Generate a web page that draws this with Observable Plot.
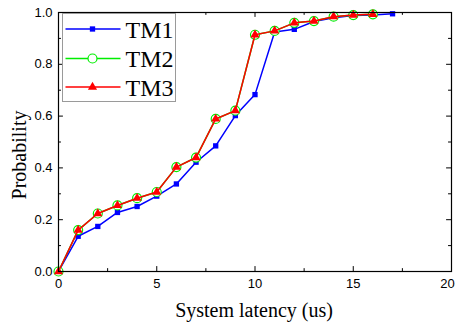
<!DOCTYPE html>
<html>
<head>
<meta charset="utf-8">
<script src="https://cdn.jsdelivr.net/npm/d3@7"></script>
<script src="https://cdn.jsdelivr.net/npm/@observablehq/plot@0.6"></script>
<style>
  html, body { margin: 0; padding: 0; background: white; }
  #wrap { position: relative; width: 456px; height: 324px; }
</style>
</head>
<body>
<div id="wrap"></div>
<script>
// ---- data ----
const latencyTM1 = [0,1,2,3,4,5,6,7,8,9,10,11,12,13,14,15,16,17];
const probTM1 = [0, 0.136, 0.174, 0.228, 0.251, 0.291, 0.338, 0.422, 0.485, 0.602, 0.683, 0.925, 0.935, 0.965, 0.98, 0.988, 0.99, 0.995];
const latencyTM2 = [0,1,2,3,4,5,6,7,8,9,10,11,12,13,14,15,16];
const probTM2 = [0, 0.16, 0.224, 0.255, 0.283, 0.307, 0.403, 0.44, 0.589, 0.621, 0.914, 0.929, 0.96, 0.967, 0.984, 0.99, 0.993];
const latencyTM3 = [0,1,2,3,4,5,6,7,8,9,10,11,12,13,14,15,16];
const probTM3 = [0, 0.16, 0.224, 0.255, 0.283, 0.307, 0.403, 0.44, 0.589, 0.621, 0.914, 0.929, 0.96, 0.967, 0.984, 0.99, 0.993];
const seriesNames = ["TM1", "TM2", "TM3"];
const xMajorTicks = [0, 5, 10, 15, 20];
const xMinorTicks = [2.5, 7.5, 12.5, 17.5];
const yMajorTicks = [0, 0.2, 0.4, 0.6, 0.8, 1.0];
const yMinorTicks = [0.1, 0.3, 0.5, 0.7, 0.9];
const xLabel = "System latency (us)";
const yLabel = "Probability";

const toRows = (xs, ys) => xs.map((x, i) => ({x, y: ys[i]}));
const tm1 = toRows(latencyTM1, probTM1);
const tm2 = toRows(latencyTM2, probTM2);
const tm3 = toRows(latencyTM3, probTM3);

const colors = {TM1: "#0000ff", TM2: "#00ee00", TM3: "#ff0000"};

const chart = Plot.plot({
  width: 456,
  height: 324,
  marginLeft: 58,
  marginRight: 5,
  marginTop: 12,
  marginBottom: 53,
  style: {fontFamily: "'Liberation Sans', Arial, sans-serif", fontSize: "13px", background: "white", overflow: "visible", color: "black"},
  x: {domain: [0, 20]},
  y: {domain: [0, 1]},
  marks: [
    // inward ticks
    Plot.ruleX(xMajorTicks, {x: d => d, y1: 0, y2: 0.019, stroke: "black", strokeWidth: 1}),
    Plot.ruleX(xMinorTicks, {x: d => d, y1: 0, y2: 0.011, stroke: "black", strokeWidth: 1}),
    Plot.ruleX(xMajorTicks, {x: d => d, y1: 1, y2: 0.981, stroke: "black", strokeWidth: 1}),
    Plot.ruleX(xMinorTicks, {x: d => d, y1: 1, y2: 0.989, stroke: "black", strokeWidth: 1}),
    Plot.ruleY(yMajorTicks, {y: d => d, x1: 0, x2: 0.25, stroke: "black", strokeWidth: 1}),
    Plot.ruleY(yMinorTicks, {y: d => d, x1: 0, x2: 0.15, stroke: "black", strokeWidth: 1}),
    Plot.ruleY(yMajorTicks, {y: d => d, x1: 20, x2: 19.75, stroke: "black", strokeWidth: 1}),
    Plot.ruleY(yMinorTicks, {y: d => d, x1: 20, x2: 19.85, stroke: "black", strokeWidth: 1}),
    Plot.axisX(xMajorTicks.slice(0, -1), {tickSize: 0, tickPadding: 7, tickFormat: d => String(d), label: null}),
    Plot.axisX(xMajorTicks.slice(-1), {tickSize: 0, tickPadding: 7, tickFormat: d => String(d), label: null, dx: -4}),
    Plot.axisY({ticks: yMajorTicks, tickSize: 0, tickPadding: 6, tickFormat: d3.format(".1f"), label: null}),
    // series
    Plot.line(tm1, {x: "x", y: "y", stroke: colors.TM1, strokeWidth: 1.5}),
    Plot.dot(tm1, {x: "x", y: "y", symbol: "square", r: 3, fill: colors.TM1, stroke: "none"}),
    Plot.line(tm2, {x: "x", y: "y", stroke: colors.TM2, strokeWidth: 1.5}),
    Plot.dot(tm2, {x: "x", y: "y", symbol: "circle", r: 4.5, fill: "white", stroke: colors.TM2, strokeWidth: 1.2}),
    Plot.line(tm3, {x: "x", y: "y", stroke: colors.TM3, strokeWidth: 1.5}),
    Plot.dot(tm3, {x: "x", y: "y", symbol: "triangle", r: 3.4, fill: colors.TM3, stroke: "none"}),
    Plot.frame({stroke: "black", strokeWidth: 1.2})
  ]
});

const wrap = document.getElementById("wrap");
wrap.appendChild(chart);

// axis titles
const svg = d3.select(chart);
svg.append("text")
  .attr("x", 254).attr("y", 317)
  .attr("text-anchor", "middle")
  .style("font-family", "'Liberation Serif', 'Times New Roman', serif")
  .style("font-size", "20px")
  .attr("fill", "black")
  .text(xLabel);
svg.append("text")
  .attr("transform", "translate(26,155) rotate(-90)")
  .attr("text-anchor", "middle")
  .style("font-family", "'Liberation Serif', 'Times New Roman', serif")
  .style("font-size", "20px")
  .attr("fill", "black")
  .text(yLabel);

// legend
const legend = svg.append("g").attr("transform", "translate(62.5,13.5)");
legend.append("rect").attr("width", 113).attr("height", 88)
  .attr("fill", "white").attr("stroke", "#9a9a9a").attr("stroke-width", 1);
const rowY = [15.5, 45, 73.5];
const symbols = {TM1: d3.symbolSquare, TM2: d3.symbolCircle, TM3: d3.symbolTriangle};
const symR = {TM1: 3, TM2: 4.5, TM3: 3.4};
seriesNames.forEach((name, i) => {
  const g = legend.append("g").attr("transform", `translate(0,${rowY[i]})`);
  g.append("line").attr("x1", 3).attr("x2", 58).attr("y1", 0).attr("y2", 0)
    .attr("stroke", colors[name]).attr("stroke-width", 1.5);
  const path = d3.symbol(symbols[name], Math.PI * symR[name] * symR[name])();
  const p = g.append("path").attr("d", path).attr("transform", "translate(30,0)");
  if (name === "TM2") p.attr("fill", "white").attr("stroke", colors[name]).attr("stroke-width", 1.2);
  else p.attr("fill", colors[name]);
  g.append("text").attr("x", 63).attr("y", 8.5)
    .attr("text-anchor", "start")
    .style("font-family", "'Liberation Serif', 'Times New Roman', serif")
    .style("font-size", "24px")
    .attr("fill", "black")
    .text(name);
});
</script>
</body>
</html>
